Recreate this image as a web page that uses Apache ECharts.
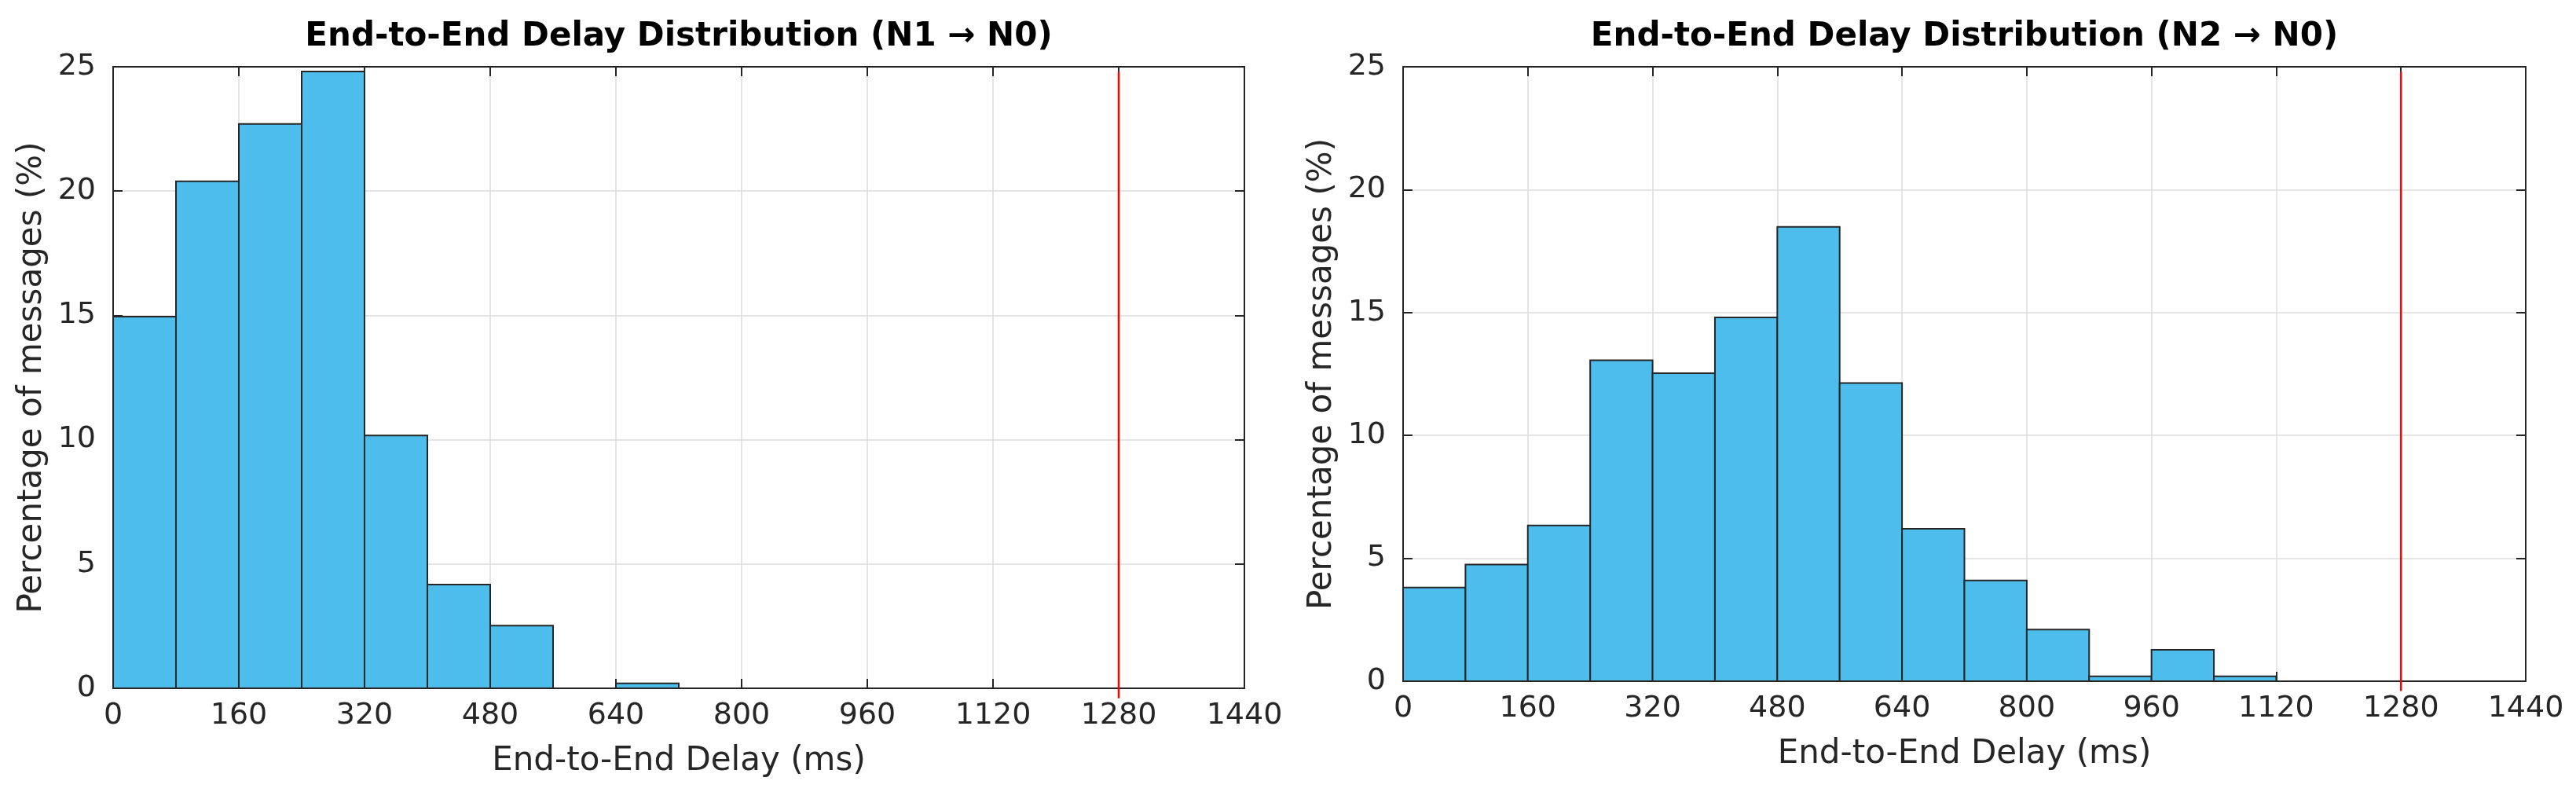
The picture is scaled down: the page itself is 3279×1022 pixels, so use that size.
<!DOCTYPE html>
<html>
<head>
<meta charset="utf-8">
<script src="https://cdn.jsdelivr.net/npm/echarts@6/dist/echarts.min.js"></script>
<style>html,body{margin:0;padding:0;background:#fff}#c{width:3279px;height:1022px}</style>
</head>
<body>
<div id="c"></div>
<script>
// Histogram bin edges (ms)
const binEdges = [0, 80, 160, 240, 320, 400, 480, 560, 640, 720, 800, 880, 960, 1040, 1120, 1200, 1280, 1360, 1440];
// Percentage of messages per bin
const pctN1 = [14.95, 20.39, 22.70, 24.81, 10.17, 4.17, 2.52, 0, 0.2, 0, 0, 0, 0, 0, 0, 0, 0, 0];
const pctN2 = [3.81, 4.75, 6.34, 13.06, 12.53, 14.80, 18.49, 12.13, 6.20, 4.10, 2.10, 0.2, 1.28, 0.2, 0, 0, 0, 0];
// Deadline marker (ms) and its vertical extent (%)
const deadline = 1280;
const deadlineSpan = [-0.4, 24.8];
const xTicks = [0, 160, 320, 480, 640, 800, 960, 1120, 1280, 1440];
const yTicks = [0, 5, 10, 15, 20, 25];
const titles = ['End-to-End Delay Distribution (N1 \u2192 N0)', 'End-to-End Delay Distribution (N2 \u2192 N0)'];
const xName = 'End-to-End Delay (ms)';
const yName = 'Percentage of messages (%)';

const FONT = 'DejaVu Sans';
const AX = '#262626';
const GRIDC = '#dcdcdc';

function toBins(vals) {
  return vals.map((v, i) => [binEdges[i], binEdges[i + 1], v]);
}

const grids = [
  {left: 144, right: 1695, top: 85, bottom: 146},
  {left: 1786, right: 64, top: 85, bottom: 155}
];

const plain = v => String(v);

const xAxes = [], yAxes = [], series = [], titleArr = [];
grids.forEach((g, gi) => {
  const center = g.left + (3279 - g.left - g.right) / 2;
  titleArr.push({
    text: titles[gi], left: center, top: 26, textAlign: 'center', padding: 0,
    textStyle: {fontFamily: FONT, fontSize: 42, fontWeight: 'bold', color: '#000'}
  });
  xAxes.push({
    type: 'value', gridIndex: gi, min: xTicks[0], max: xTicks[xTicks.length - 1], interval: 160,
    position: 'bottom', name: xName, nameLocation: 'middle', nameGap: 72,
    nameTextStyle: {fontFamily: FONT, fontSize: 42, color: AX},
    axisLine: {show: true, onZero: false, lineStyle: {color: AX, width: 2}},
    axisTick: {show: true, inside: true, length: 12, lineStyle: {color: AX, width: 2}},
    axisLabel: {fontFamily: FONT, fontSize: 38, color: AX, margin: 16, formatter: plain},
    splitLine: {show: true, lineStyle: {color: GRIDC, width: 1.5}}
  });
  xAxes.push({
    type: 'value', gridIndex: gi, min: xTicks[0], max: xTicks[xTicks.length - 1], interval: 160,
    position: 'top',
    axisLine: {show: true, onZero: false, lineStyle: {color: AX, width: 2}},
    axisTick: {show: true, inside: true, length: 12, lineStyle: {color: AX, width: 2}},
    axisLabel: {show: false}, splitLine: {show: false}
  });
  yAxes.push({
    type: 'value', gridIndex: gi, min: yTicks[0], max: yTicks[yTicks.length - 1], interval: 5,
    position: 'left', name: yName, nameLocation: 'middle', nameGap: 82,
    nameTextStyle: {fontFamily: FONT, fontSize: 42, color: AX},
    axisLine: {show: true, onZero: false, lineStyle: {color: AX, width: 2}},
    axisTick: {show: true, inside: true, length: 12, lineStyle: {color: AX, width: 2}},
    axisLabel: {fontFamily: FONT, fontSize: 38, color: AX, margin: 22, formatter: plain},
    splitLine: {show: true, lineStyle: {color: GRIDC, width: 1.5}}
  });
  yAxes.push({
    type: 'value', gridIndex: gi, min: yTicks[0], max: yTicks[yTicks.length - 1], interval: 5,
    position: 'right',
    axisLine: {show: true, onZero: false, lineStyle: {color: AX, width: 2}},
    axisTick: {show: true, inside: true, length: 12, lineStyle: {color: AX, width: 2}},
    axisLabel: {show: false}, splitLine: {show: false}
  });
  series.push({
    type: 'custom', xAxisIndex: gi * 2, yAxisIndex: gi * 2,
    data: toBins(gi === 0 ? pctN1 : pctN2),
    encode: {x: [0, 1], y: 2},
    renderItem: function (params, api) {
      const p0 = api.coord([api.value(0), api.value(2)]);
      const p1 = api.coord([api.value(1), 0]);
      return {
        type: 'rect',
        shape: {x: p0[0], y: p0[1], width: p1[0] - p0[0], height: p1[1] - p0[1]},
        style: {fill: '#4DBDEC', stroke: '#262626', lineWidth: 2}
      };
    },
    z: 3
  });
  series.push({
    type: 'line', xAxisIndex: gi * 2, yAxisIndex: gi * 2,
    data: [[deadline, deadlineSpan[0]], [deadline, deadlineSpan[1]]],
    symbol: 'none', clip: false, silent: true,
    lineStyle: {color: '#ff0000', width: 2.5}, z: 5
  });
});

const chart = echarts.init(document.getElementById('c'), null, {renderer: 'canvas'});
chart.setOption({
  backgroundColor: '#ffffff',
  animation: false,
  title: titleArr,
  grid: grids,
  xAxis: xAxes,
  yAxis: yAxes,
  series: series
});
</script>
</body>
</html>
